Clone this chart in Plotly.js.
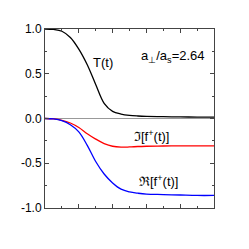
<!DOCTYPE html>
<html>
<head>
<meta charset="utf-8">
<script src="https://cdn.plot.ly/plotly-3.0.1.min.js"></script>
<style>html,body{margin:0;padding:0;background:#fff;}#chart{width:249px;height:249px;}</style>
</head>
<body>
<div id="chart"></div>
<script>
const tVals = [0,0.5,1,1.5,2,2.5,3,3.5,4,4.5,5,5.5,6,7,8,9,10];
const transmission = [1.0,0.995,0.975,0.905,0.775,0.60,0.38,0.17,0.08,0.05,0.035,0.028,0.024,0.02,0.018,0.016,0.015];
const imagPart = [0,-0.005,-0.02,-0.05,-0.10,-0.17,-0.23,-0.28,-0.31,-0.32,-0.318,-0.313,-0.31,-0.307,-0.305,-0.305,-0.305];
const realPart = [0,-0.005,-0.025,-0.07,-0.15,-0.30,-0.48,-0.62,-0.72,-0.79,-0.82,-0.835,-0.845,-0.85,-0.855,-0.86,-0.86];
const yTickVals = [-1,-0.5,0,0.5,1];
const yTickText = ['-1.0','-0.5','0.0','0.5','1.0'];

const font = 'Liberation Sans Narrow, Arial Narrow, Liberation Sans, Arial, sans-serif';
const traces = [
  {x:tVals, y:transmission, mode:'lines', line:{color:'#000000', width:1.3, shape:'spline'}, hoverinfo:'skip'},
  {x:tVals, y:imagPart, mode:'lines', line:{color:'#ff0000', width:1.3, shape:'spline'}, hoverinfo:'skip'},
  {x:tVals, y:realPart, mode:'lines', line:{color:'#0000ff', width:1.3, shape:'spline'}, hoverinfo:'skip'}
];
const axisCommon = {showline:true, linecolor:'#444', linewidth:1, mirror:'ticks', ticks:'inside', ticklen:4, tickcolor:'#444', showgrid:false};
const layout = {
  width:249, height:249,
  margin:{l:45, r:35, t:29, b:41},
  paper_bgcolor:'#fff', plot_bgcolor:'#fff',
  showlegend:false,
  font:{family:font, size:12, color:'#000'},
  xaxis:Object.assign({}, axisCommon, {range:[0,10], dtick:2, tick0:0, showticklabels:false, zeroline:false,
    minor:{dtick:1, ticks:'inside', ticklen:2, tickcolor:'#444'}}),
  yaxis:Object.assign({}, axisCommon, {range:[-1,1], tickvals:yTickVals, ticktext:yTickText, zeroline:true, zerolinecolor:'#999', zerolinewidth:1,
    tickfont:{family:font, size:12, color:'#000'},
    minor:{tickvals:[-0.75,-0.25,0.25,0.75], ticks:'inside', ticklen:2, tickcolor:'#444'}}),
  annotations:[
    {x:3.43, y:0.63, text:'T(t)', showarrow:false, font:{family:font, size:13}},
    {x:7.55, y:0.69, text:'a<sub>⊥</sub>/a<sub>s</sub>=2.64', showarrow:false, font:{family:font, size:13}},
    {x:6.3, y:-0.20, text:'ℑ[f<sup>+</sup>(t)]', showarrow:false, font:{family:font, size:13}},
    {x:6.7, y:-0.70, text:'ℜ[f<sup>+</sup>(t)]', showarrow:false, font:{family:font, size:13}}
  ]
};
Plotly.newPlot('chart', traces, layout, {staticPlot:true, displayModeBar:false});
</script>
</body>
</html>
